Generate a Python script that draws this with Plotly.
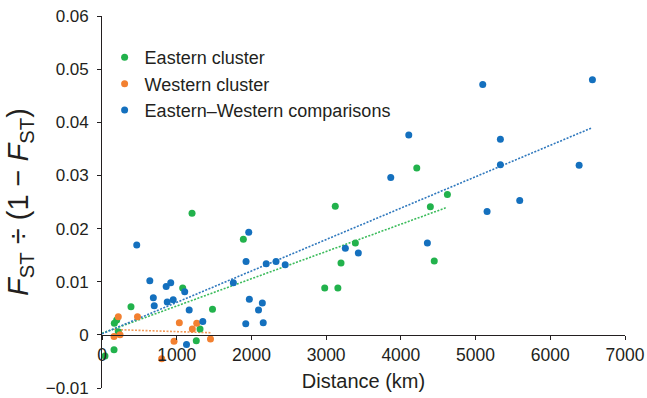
import plotly.graph_objects as go

# ---- data ----
east_x = [40, 161, 165, 197, 218, 388, 1080, 1205, 1262, 1312, 1479, 1892,
          2981, 3157, 3122, 3199, 3391, 4213, 4395, 4447, 4623]
east_y = [-0.0040, -0.0028, 0.0022, 0.0028, 0.0006, 0.0053, 0.0088, 0.0229,
          -0.0011, 0.0011, 0.0048, 0.0180, 0.0088, 0.0088, 0.0242, 0.0135,
          0.0173, 0.0314, 0.0241, 0.0139, 0.0264]

west_x = [161, 218, 241, 475, 799, 964, 1035, 1209, 1268, 1452]
west_y = [-0.0003, 0.0034, 0.0000, 0.0034, -0.0045, -0.0012, 0.0023, 0.0011,
          0.0022, -0.0008]

ew_x = [465, 640, 687, 699, 859, 873, 920, 953, 1107, 1131, 1167, 1349, 1758,
        1924, 1928, 1964, 1972, 2095, 2146, 2158, 2198, 2329, 2452, 3257, 3431,
        3865, 4106, 4355, 5096, 5154, 5332, 5332, 5591, 6386, 6564]
ew_y = [0.0169, 0.0102, 0.0070, 0.0055, 0.0091, 0.0062, 0.0098, 0.0066, 0.0081,
        -0.0018, 0.0047, 0.0025, 0.0098, 0.0021, 0.0138, 0.0193, 0.0067, 0.0047,
        0.0060, 0.0023, 0.0134, 0.0138, 0.0132, 0.0163, 0.0154, 0.0296, 0.0376,
        0.0173, 0.0471, 0.0232, 0.0368, 0.0320, 0.0253, 0.0319, 0.0480]

# trend line end points
east_fit_x = [0, 4600]
east_fit_y = [0.0003, 0.0239]
west_fit_x = [161, 1452]
west_fit_y = [0.0010, 0.0004]
ew_fit_x = [0, 6564]
ew_fit_y = [0.0002, 0.0390]

x_ticks = [0, 1000, 2000, 3000, 4000, 5000, 6000, 7000]
y_ticks = [-0.01, 0, 0.01, 0.02, 0.03, 0.04, 0.05, 0.06]
y_tick_labels = ["\u22120.01", "0", "0.01", "0.02", "0.03", "0.04", "0.05", "0.06"]

GREEN = "#22b24c"
ORANGE = "#f28030"
BLUE = "#1470be"
FONT = "Liberation Sans, Arial, Helvetica, sans-serif"
TXT = "#231f20"

fig = go.Figure()

# trend lines (drawn first, under markers)
fig.add_trace(go.Scatter(x=west_fit_x, y=west_fit_y, mode="lines", showlegend=False,
                         line=dict(color="#f39a58", width=1.6, dash="2px,1.5px"),
                         hoverinfo="skip"))
fig.add_trace(go.Scatter(x=east_fit_x, y=east_fit_y, mode="lines", showlegend=False,
                         line=dict(color="#3cbc5c", width=1.6, dash="2px,1.5px"),
                         hoverinfo="skip"))
fig.add_trace(go.Scatter(x=ew_fit_x, y=ew_fit_y, mode="lines", showlegend=False,
                         line=dict(color="#2f78bd", width=1.6, dash="2px,1.5px"),
                         hoverinfo="skip"))

fig.add_trace(go.Scatter(x=east_x, y=east_y, mode="markers", name="Eastern cluster",
                         marker=dict(color=GREEN, size=7)))
fig.add_trace(go.Scatter(x=west_x, y=west_y, mode="markers", name="Western cluster",
                         marker=dict(color=ORANGE, size=7)))
fig.add_trace(go.Scatter(x=ew_x, y=ew_y, mode="markers",
                         name="Eastern\u2013Western comparisons",
                         marker=dict(color=BLUE, size=7)))

fig.update_layout(
    width=647, height=398,
    margin=dict(l=102, r=22, t=16, b=10, autoexpand=False),
    plot_bgcolor="white", paper_bgcolor="white",
    font=dict(family=FONT, color=TXT, size=17),
    showlegend=True,
    legend=dict(x=0.005, y=0.938, xanchor="left", yanchor="top",
                font=dict(size=18, color=TXT), bgcolor="rgba(0,0,0,0)",
                tracegroupgap=0, itemwidth=30),
    xaxis=dict(range=[0, 7000], tickvals=x_ticks, ticktext=[str(v) for v in x_ticks],
               anchor="free", position=1/7, showline=True, linecolor=TXT,
               linewidth=1.2, ticks="outside", ticklen=4, tickcolor=TXT,
               showgrid=False, zeroline=False, tickfont=dict(size=17.5),
               automargin=False, ticklabeloverflow="allow",
               title=dict(text="Distance (km)", font=dict(size=20), standoff=10)),
    yaxis=dict(range=[-0.01, 0.06], tickvals=y_ticks,
               ticktext=[t + "\u00a0" for t in y_tick_labels],
               showline=True, linecolor=TXT, linewidth=1.2, ticks="outside",
               ticklen=4, tickcolor=TXT, showgrid=False, zeroline=False,
               tickfont=dict(size=17), automargin=False, ticklabeloverflow="allow",
               title=dict(text="<i>F</i><sub>ST</sub> \u00f7 (1 \u2212 <i>F</i><sub>ST</sub>)",
                          font=dict(size=29), standoff=8)),
)

fig.write_html("out.html",
               config={"displayModeBar": False},
               post_script="document.body.style.margin='0px';"
                           "document.body.style.overflow='hidden';")
